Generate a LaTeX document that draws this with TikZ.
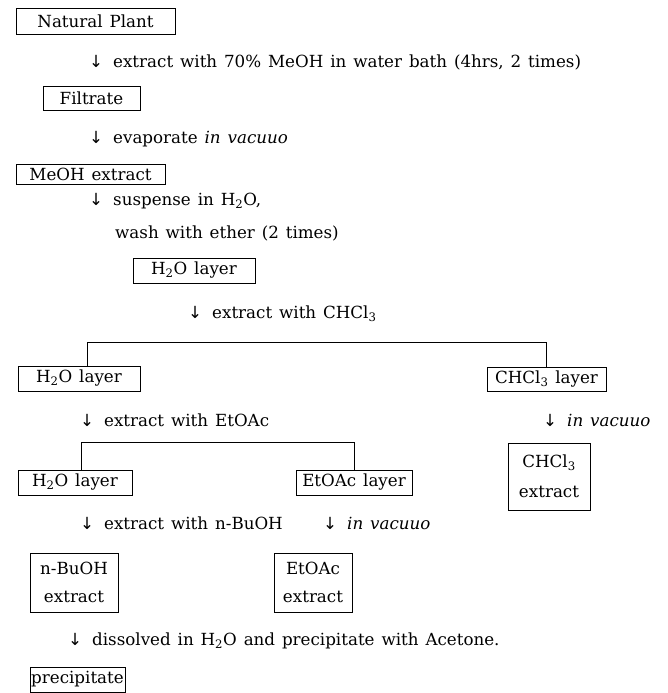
\documentclass[tikz,border=0pt]{standalone}
\usepackage{fontspec}
\setmainfont[WordSpace=1.3]{DejaVu Serif}
\newfontfamily\arr{DejaVu Sans}
\newcommand{\dn}{{\arr ↓}\hspace{10pt}}
\begin{document}
\begin{tikzpicture}[x=1pt,y=-1pt,
  box/.style={draw, line width=0.7pt, inner sep=0pt},
  lbl/.style={anchor=west, inner sep=0pt},
  link/.style={line width=0.7pt},
  every node/.style={font=\fontsize{16.7}{20}\selectfont}]
\useasboundingbox (0,0) rectangle (667,693);
% boxes
\node[box, minimum width=159, minimum height=26] (plant) at (95.5,21) {Natural Plant};
\node[box, minimum width=97, minimum height=24] (filt) at (91.5,98) {Filtrate};
\node[box, minimum width=149, minimum height=20] (meoh) at (90.5,174) {MeOH extract};
\node[box, minimum width=122, minimum height=25] (wA) at (194,270.5) {H\textsubscript{2}O layer};
\node[box, minimum width=122, minimum height=25] (wB) at (79,378.5) {H\textsubscript{2}O layer};
\node[box, minimum width=119, minimum height=24] (cA) at (546.5,379) {CHCl\textsubscript{3} layer};
\node[box, minimum width=114, minimum height=25] (wC) at (75,482.5) {H\textsubscript{2}O layer};
\node[box, minimum width=116, minimum height=25] (eA) at (354,482.5) {EtOAc layer};
\node[box, minimum width=82, minimum height=67, align=center] (cB) at (549,476.5) {CHCl\textsubscript{3}\\[10pt]extract};
\node[box, minimum width=88, minimum height=59, align=center] (bB) at (74,582.5) {n-BuOH\\[8pt]extract};
\node[box, minimum width=78, minimum height=59, align=center] (eB) at (313,582.5) {EtOAc\\[8pt]extract};
\node[box, minimum width=95, minimum height=25] (prec) at (77.5,679.5) {precipitate};
% step labels
\node[lbl] (t1) at (89,62) {\dn extract with 70\% MeOH in water bath (4hrs, 2 times)};
\node[lbl] (t2) at (89,139) {\dn evaporate \textit{in vacuuo}};
\node[lbl] (t3) at (89,201) {\dn suspense in H\textsubscript{2}O,};
\node[lbl] (t3b) at (115,233) {wash with ether (2 times)};
\node[lbl] (t4) at (188,314) {\dn extract with CHCl\textsubscript{3}};
\node[lbl] (t5) at (80,420) {\dn extract with EtOAc};
\node[lbl] (t6) at (543,420) {\dn \textit{in vacuuo}};
\node[lbl] (t7) at (80,523) {\dn extract with n-BuOH};
\node[lbl] (t8) at (323,523) {\dn \textit{in vacuuo}};
\node[lbl] (t9) at (68,641) {\dn dissolved in H\textsubscript{2}O and precipitate with Acetone.};
% split connectors
\coordinate (s1) at (87,342);
\coordinate (s2) at (81,442);
\draw[link] (s1 |- wB.north) -- (s1) -- (s1 -| cA.north) -- (cA.north);
\draw[link] (s2 |- wC.north) -- (s2) -- (s2 -| eA.north) -- (eA.north);
\end{tikzpicture}
\end{document}
